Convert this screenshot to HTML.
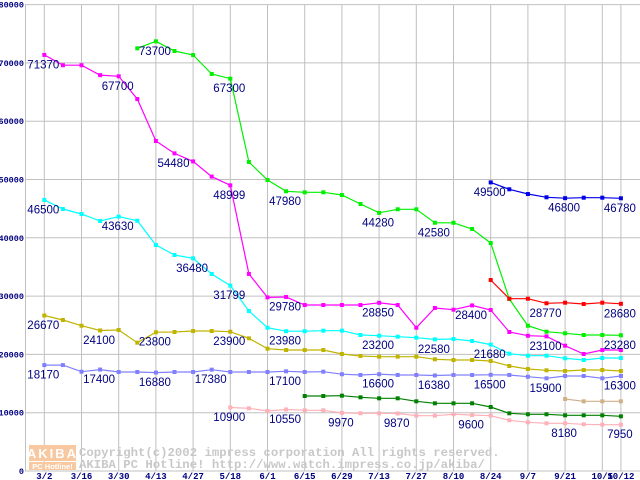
<!DOCTYPE html>
<html><head><meta charset="utf-8"><style>
html,body{margin:0;padding:0;background:#fff;}
svg{display:block;}
</style></head><body>
<svg id="chart" width="640" height="480" viewBox="0 0 640 480" xmlns="http://www.w3.org/2000/svg">
<g id="grid"></g>
<g id="watermark">
<rect x="29" y="445" width="47" height="16" fill="#f8c8a0"/>
<text x="52.5" y="458" text-anchor="middle" font-family="Liberation Sans, sans-serif" font-weight="bold" font-size="13" fill="#fff" letter-spacing="2">AKIBA</text>
<rect x="29" y="462" width="47" height="8" fill="#f8c8a0"/>
<text x="52.5" y="469" text-anchor="middle" font-family="Liberation Sans, sans-serif" font-weight="bold" font-size="7.5" fill="#fff">PC Hotline!</text>
<text x="79" y="456" font-family="Liberation Mono, monospace" font-weight="bold" font-size="12.3" fill="#c8c8c8">Copyright(c)2002 impress corporation All rights reserved.</text>
<text x="79" y="468" font-family="Liberation Mono, monospace" font-weight="bold" font-size="12.3" fill="#c8c8c8">AKIBA PC Hotline!  http://www.watch.impress.co.jp/akiba/</text>
</g>
<g id="series"></g>
<g id="labels"></g>
<g id="axes"></g>
</svg>
<script>
const xTickLabels = ["3/2","3/16","3/30","4/13","4/27","5/18","6/1","6/15","6/29","7/13","7/27","8/10","8/24","9/7","9/21","10/5","10/12"];
const xTickIndex = [0,2,4,6,8,10,12,14,16,18,20,22,24,26,28,30,31];
const yTicks = [0,10000,20000,30000,40000,50000,60000,70000,80000];
const seriesColors = ["#ff00ff","#00f000","#0000e8","#ff0000","#00ffff","#c0b400","#8080ff","#008000","#ffb0b8","#d0b088"];
const sMagenta = [71370,69600,69600,67900,67700,63800,56600,54480,53100,50500,48999,33800,29780,29850,28470,28470,28470,28470,28850,28470,24580,27960,27670,28400,27620,23840,23200,23100,21490,20070,20750,20750];
const sGreen = [null,null,null,null,null,72500,73700,72040,71350,68100,67300,53000,49910,47980,47800,47800,47340,45800,44280,44890,44890,42580,42580,41510,39100,29500,24920,23890,23620,23330,23330,23280];
const sBlue = [null,null,null,null,null,null,null,null,null,null,null,null,null,null,null,null,null,null,null,null,null,null,null,null,49500,48320,47510,46950,46800,46880,46880,46780];
const sRed = [null,null,null,null,null,null,null,null,null,null,null,null,null,null,null,null,null,null,null,null,null,null,null,null,32760,29550,29550,28770,28870,28640,28870,28680];
const sCyan = [46500,44940,44080,42880,43630,42930,38760,37050,36480,33790,31799,27440,24580,23980,23980,24070,24070,23330,23200,23040,22870,22580,22640,22300,21680,20120,19780,19780,19330,19040,19380,19380];
const sOlive = [26670,25900,24920,24100,24190,22010,23800,23840,24010,24010,23900,22760,20980,20750,20750,20750,20070,19730,19610,19610,19610,19160,19040,19040,18870,18010,17500,17270,17150,17320,17320,17150];
const sPeri = [18170,18170,17030,17400,16980,16980,16880,16980,16980,17380,16980,16980,16980,17100,16980,17030,16600,16470,16600,16470,16470,16380,16470,16470,16500,16470,16170,15900,16300,16300,15900,16300];
const sDkGreen = [null,null,null,null,null,null,null,null,null,null,null,null,null,null,12860,12860,12920,12640,12470,12470,11950,11610,11610,11610,10980,9900,9730,9730,9550,9550,9550,9380];
const sPink = [null,null,null,null,null,null,null,null,null,null,10900,10750,10290,10550,10410,10410,9970,9900,9900,9870,9490,9490,9730,9600,9490,8700,8350,8180,8180,8010,7950,7950];
const sTan = [null,null,null,null,null,null,null,null,null,null,null,null,null,null,null,null,null,null,null,null,null,null,null,null,null,null,null,null,12350,11950,11950,11950];
const seriesList = [sMagenta,sGreen,sBlue,sRed,sCyan,sOlive,sPeri,sDkGreen,sPink,sTan];
const seriesNames = ["magenta-series","green-series","blue-series","red-series","cyan-series","olive-series","periwinkle-series","dark-green-series","pink-series","tan-series"];
const labelSeries = [0,0,0,0,0,0,0,0, 1,1,1,1,1,1, 2,2,2, 3,3, 4,4,4,4,4,4,4,4, 5,5,5,5,5, 6,6,6,6,6,6,6,6,6,6, 8,8,8,8,8,8,8];
const labelIndex =  [0,4,7,10,13,18,23,27, 6,10,13,18,21,31, 24,28,31, 27,31, 0,4,8,10,13,18,21,24, 0,3,6,10,13, 0,3,6,9,13,18,21,24,27,31, 10,13,16,19,23,28,31];
const labelText = ["71370","67700","54480","48999","29780","28850","28400","23100","73700","67300","47980","44280","42580","23280","49500","46800","46780","28770","28680","46500","43630","36480","31799","23980","23200","22580","21680","26670","24100","23800","23900","17100","18170","17400","16880","17380","17100","16600","16380","16500","15900","16300","10900","10550","9970","9870","9600","8180","7950"];
// fix: olive index 13 label is 23980? (kept as cyan); olive 13 label text replaced below
labelText[31] = "";

const NS = "http://www.w3.org/2000/svg";
const X0 = 44.3, DX = 18.6, Y0 = 471, YS = 58.3/10000;
function xs(i){ return X0 + i*DX; }
function ys(v){ return Y0 - v*YS; }
function mk(tag, attrs, parent){ const e=document.createElementNS(NS,tag); for(const k in attrs) e.setAttribute(k,attrs[k]); parent.appendChild(e); return e; }

const grid = document.getElementById('grid');
for (let k=0;k<yTicks.length;k++){
  const l = mk('line',{x1:25,x2:640,y1:ys(yTicks[k]),y2:ys(yTicks[k]),stroke:'#c0c0c0','stroke-width':1},grid);
  
  
}
for (let k=0;k<xTickIndex.length;k++){
  const l = mk('line',{x1:xs(xTickIndex[k]),x2:xs(xTickIndex[k]),y1:5,y2:471,stroke:'#c0c0c0','stroke-width':1},grid);
  
  
}
const ax = document.getElementById('axes');
const yl = mk('line',{x1:25.5,x2:25.5,y1:5,y2:471,stroke:'#c0c0c0'},ax);


for (let k=0;k<yTicks.length;k++){
  const t = mk('text',{x:24,y:ys(yTicks[k])+3,'text-anchor':'end','font-family':'Liberation Mono, monospace','font-weight':'bold','font-size':8.5,fill:'#000080'},ax);
  t.textContent = String(yTicks[k]);
  
  
}
for (let k=0;k<xTickIndex.length;k++){
  const t = mk('text',{x:xs(xTickIndex[k]),y:479,'text-anchor':'middle','font-family':'Liberation Mono, monospace','font-weight':'bold','font-size':9,fill:'#000080'},ax);
  t.textContent = xTickLabels[k];
  
  
}

const sg = document.getElementById('series');
for (let s=0;s<seriesList.length;s++){
  const data = seriesList[s];
  const g = mk('g',{},sg);
  
  
  let pts=[];
  for (let i=0;i<data.length;i++) if (data[i]!==null) pts.push(xs(i).toFixed(1)+','+ys(data[i]).toFixed(1));
  const pl = mk('polyline',{points:pts.join(' '),fill:'none',stroke:seriesColors[s],'stroke-width':1.2},g);
  
  
  for (let i=0;i<data.length;i++){
    if (data[i]===null) continue;
    const r = mk('rect',{x:xs(i)-2,y:ys(data[i])-2,width:4,height:4,fill:seriesColors[s]},g);
    
    
  }
}
const lg = document.getElementById('labels');
for (let k=0;k<labelText.length;k++){
  if (!labelText[k]) continue;
  const v = seriesList[labelSeries[k]][labelIndex[k]];
  const t = mk('text',{x:xs(labelIndex[k])-1,y:ys(v)+13.5,'text-anchor':'middle','font-family':'Liberation Sans, sans-serif','font-size':11.5,fill:'#000080'},lg);
  t.textContent = labelText[k];
  
  
}
</script>
</body></html>
